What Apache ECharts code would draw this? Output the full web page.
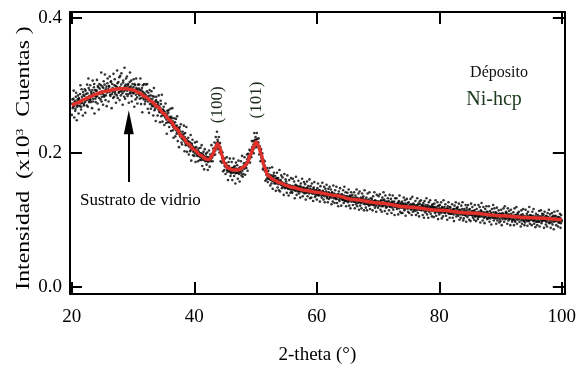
<!DOCTYPE html>
<html>
<head>
<meta charset="utf-8">
<script src="https://cdn.jsdelivr.net/npm/echarts@6/dist/echarts.min.js"></script>
<style>
  html, body { margin: 0; padding: 0; background: #fff; }
  #chart { width: 579px; height: 373px; }
</style>
</head>
<body>
<div id="chart"></div>
<script>
// XRD scan of the Ni-hcp deposit on glass: 2-theta from 20 to 100 deg, step 0.05 deg,
// stored as two interleaved rows per degree (x.x0 readings and x.x5 readings)
const scanStart = 20;
const scanStep = 0.1;
// readings at 20.0, 20.1, 20.2 ... 100.0
const counts = [
  256, 279, 268, 292, 252, 277, 265, 289, 248, 276,
  285, 258, 279, 269, 300, 264, 294, 274, 255, 286,
  270, 294, 259, 287, 278, 301, 268, 310, 275, 293,
  300, 275, 287, 266, 307, 280, 297, 258, 293, 275,
  283, 308, 273, 297, 264, 302, 290, 279, 319, 283,
  298, 271, 306, 285, 316, 278, 294, 269, 303, 291,
  276, 298, 313, 284, 306, 266, 302, 290, 317, 283,
  309, 287, 274, 298, 322, 281, 305, 290, 278, 314,
  285, 318, 296, 271, 307, 291, 326, 280, 301, 287,
  313, 284, 302, 274, 297, 319, 288, 307, 276, 302,
  288, 309, 268, 300, 279, 310, 294, 273, 301, 287,
  301, 280, 310, 272, 292, 260, 300, 282, 302, 272,
  276, 301, 280, 302, 265, 289, 259, 293, 280, 265,
  291, 269, 284, 255, 296, 263, 276, 247, 283, 268,
  255, 274, 285, 261, 245, 277, 254, 286, 246, 264,
  268, 241, 257, 273, 244, 228, 262, 245, 263, 238,
  245, 265, 232, 251, 266, 233, 222, 251, 240, 224,
  250, 228, 254, 217, 236, 208, 238, 224, 242, 215,
  212, 231, 219, 240, 202, 229, 211, 238, 201, 217,
  222, 197, 215, 202, 226, 188, 213, 219, 196, 203,
  195, 215, 186, 208, 216, 195, 187, 206, 197, 189,
  207, 189, 211, 180, 197, 201, 175, 205, 187, 198,
  182, 200, 174, 193, 203, 179, 197, 187, 211, 193,
  187, 206, 197, 215, 197, 223, 213, 231, 219, 205,
  223, 200, 214, 187, 203, 185, 200, 172, 187, 174,
  191, 168, 184, 193, 171, 159, 186, 172, 191, 165,
  169, 186, 159, 177, 191, 165, 180, 154, 185, 170,
  181, 161, 188, 168, 157, 178, 187, 166, 195, 164,
  168, 184, 193, 167, 184, 177, 197, 173, 198, 193,
  204, 185, 203, 193, 217, 200, 217, 199, 229, 219,
  223, 208, 229, 211, 215, 221, 197, 209, 187, 205,
  188, 199, 175, 189, 175, 187, 158, 175, 160, 177,
  156, 173, 161, 177, 151, 166, 154, 178, 146, 166,
  170, 154, 165, 143, 161, 170, 148, 162, 144, 174,
  142, 159, 166, 147, 163, 151, 137, 168, 147, 160,
  157, 140, 166, 146, 136, 159, 151, 140, 162, 142,
  140, 161, 146, 157, 132, 152, 164, 137, 150, 142,
  158, 139, 150, 133, 154, 143, 161, 135, 147, 156,
  139, 153, 130, 147, 157, 135, 150, 142, 160, 132,
  150, 133, 154, 139, 128, 148, 156, 134, 144, 136,
  130, 147, 154, 136, 144, 127, 150, 141, 133, 155,
  143, 130, 149, 126, 146, 137, 152, 132, 126, 146,
  131, 149, 136, 145, 123, 141, 127, 151, 138, 125,
  144, 131, 149, 125, 138, 120, 142, 128, 147, 134,
  121, 138, 130, 144, 125, 149, 128, 141, 120, 135,
  140, 126, 145, 121, 136, 117, 141, 129, 137, 122,
  127, 141, 117, 136, 123, 145, 120, 132, 139, 115,
  142, 121, 133, 117, 139, 127, 135, 114, 144, 123,
  118, 133, 114, 139, 128, 121, 141, 116, 132, 124,
  131, 114, 135, 122, 141, 118, 128, 112, 137, 125,
  118, 135, 123, 138, 115, 129, 112, 133, 120, 141,
  130, 113, 136, 118, 127, 109, 132, 123, 114, 137,
  119, 131, 110, 127, 136, 115, 124, 107, 132, 120,
  132, 116, 124, 108, 128, 136, 112, 122, 110, 127,
  110, 124, 133, 114, 129, 106, 122, 131, 117, 112,
  126, 110, 120, 131, 115, 107, 134, 112, 123, 117,
  113, 128, 107, 121, 132, 110, 124, 105, 127, 118,
  129, 114, 122, 107, 125, 103, 128, 111, 119, 132,
  108, 122, 103, 126, 115, 129, 109, 119, 105, 123,
  119, 104, 124, 110, 129, 106, 116, 126, 101, 121,
  108, 122, 112, 126, 102, 119, 105, 129, 116, 110,
  123, 106, 116, 100, 120, 126, 109, 103, 119, 112,
  109, 123, 103, 116, 98, 121, 113, 126, 105, 117,
  119, 106, 124, 100, 113, 103, 121, 109, 126, 99,
  102, 116, 107, 122, 97, 118, 104, 122, 110, 100,
  116, 98, 124, 107, 119, 103, 113, 100, 122, 105,
  98, 116, 110, 101, 122, 105, 119, 96, 114, 125,
  111, 99, 119, 103, 95, 116, 107, 120, 101, 112,
  102, 120, 97, 113, 109, 93, 116, 104, 122, 99,
  117, 102, 111, 94, 118, 99, 107, 114, 96, 109,
  98, 115, 92, 110, 104, 117, 97, 120, 101, 112,
  110, 94, 117, 99, 113, 102, 92, 115, 106, 97,
  100, 111, 92, 117, 97, 107, 119, 94, 110, 103,
  112, 97, 105, 90, 114, 94, 108, 116, 99, 92,
  96, 115, 101, 109, 91, 112, 98, 119, 94, 106,
  106, 92, 112, 99, 116, 94, 102, 89, 109, 97,
  92, 107, 97, 113, 90, 104, 114, 95, 109, 99,
  108, 88, 112, 99, 93, 106, 90, 110, 103, 115,
  95, 108, 88, 103, 110, 93, 106, 86, 112, 99,
  106, 92, 101, 113, 90, 104, 96, 109, 88, 107,
  98
];
// readings at 20.05, 20.15, 20.25 ... 99.95
const countsHalf = [
  273, 266, 280, 269, 275, 262, 283, 271, 268, 279,
  270, 281, 276, 287, 273, 268, 283, 279, 290, 272,
  284, 275, 292, 281, 270, 288, 279, 296, 284, 278,
  279, 290, 285, 293, 276, 289, 302, 284, 280, 292,
  292, 284, 299, 288, 281, 295, 287, 300, 276, 291,
  287, 296, 283, 301, 292, 285, 298, 289, 310, 294,
  299, 290, 286, 305, 293, 287, 296, 281, 294, 300,
  290, 299, 294, 285, 303, 296, 289, 312, 297, 291,
  301, 292, 288, 304, 296, 283, 299, 293, 310, 297,
  292, 300, 287, 296, 305, 290, 298, 284, 294, 291,
  297, 289, 302, 293, 286, 296, 282, 292, 288, 295,
  285, 293, 287, 281, 296, 286, 290, 279, 288, 284,
  286, 279, 291, 283, 276, 284, 279, 272, 285, 277,
  272, 280, 275, 269, 283, 273, 266, 278, 270, 275,
  271, 264, 269, 260, 266, 272, 259, 263, 256, 262,
  255, 261, 252, 258, 249, 256, 251, 259, 246, 253,
  250, 244, 253, 241, 247, 238, 244, 236, 245, 239,
  233, 240, 230, 236, 228, 234, 225, 231, 227, 221,
  226, 220, 227, 217, 223, 214, 220, 212, 218, 213,
  210, 216, 208, 214, 204, 211, 206, 209, 201, 207,
  206, 199, 204, 200, 197, 203, 196, 201, 194, 199,
  193, 199, 192, 196, 189, 195, 190, 193, 188, 194,
  188, 192, 186, 191, 188, 193, 190, 195, 192, 198,
  200, 196, 204, 207, 203, 211, 208, 214, 216, 210,
  213, 206, 208, 198, 199, 192, 193, 185, 186, 180,
  184, 178, 181, 174, 179, 176, 180, 173, 177, 171,
  177, 172, 176, 170, 178, 171, 175, 169, 176, 174,
  170, 175, 171, 177, 172, 176, 170, 178, 173, 177,
  180, 176, 183, 178, 185, 182, 190, 185, 193, 190,
  197, 194, 202, 199, 208, 203, 212, 206, 216, 212,
  219, 214, 220, 212, 215, 206, 208, 201, 202, 193,
  191, 187, 186, 178, 181, 172, 176, 167, 171, 163,
  168, 162, 167, 160, 165, 159, 164, 158, 163, 157,
  161, 156, 160, 154, 162, 155, 159, 153, 158, 155,
  157, 152, 156, 151, 155, 149, 154, 150, 153, 148,
  153, 148, 152, 147, 151, 146, 150, 145, 150, 146,
  150, 145, 149, 144, 148, 143, 151, 145, 148, 144,
  148, 143, 147, 142, 149, 144, 146, 141, 148, 143,
  146, 141, 145, 140, 147, 142, 144, 139, 146, 141,
  145, 140, 144, 139, 146, 140, 143, 138, 144, 140,
  143, 138, 142, 137, 144, 139, 141, 136, 142, 138,
  137, 141, 135, 140, 138, 142, 134, 139, 136, 141,
  139, 134, 138, 133, 140, 135, 137, 132, 139, 134,
  133, 137, 131, 136, 134, 138, 130, 135, 132, 137,
  135, 130, 134, 129, 136, 131, 133, 128, 135, 130,
  129, 133, 128, 134, 130, 135, 127, 132, 129, 133,
  132, 127, 131, 126, 133, 128, 130, 125, 131, 127,
  126, 130, 125, 131, 127, 132, 124, 129, 126, 130,
  129, 124, 128, 123, 130, 125, 127, 122, 128, 124,
  123, 127, 122, 128, 124, 129, 121, 126, 123, 127,
  127, 121, 126, 123, 128, 120, 125, 122, 129, 124,
  122, 127, 121, 125, 119, 126, 123, 128, 120, 124,
  125, 120, 126, 118, 124, 121, 127, 119, 123, 121,
  119, 124, 122, 126, 117, 123, 120, 125, 118, 122,
  123, 118, 121, 116, 124, 119, 122, 117, 125, 120,
  117, 122, 119, 123, 116, 121, 118, 124, 115, 120,
  121, 116, 120, 114, 122, 117, 119, 115, 123, 118,
  115, 120, 117, 121, 114, 119, 116, 122, 113, 118,
  119, 114, 118, 112, 120, 115, 117, 113, 121, 116,
  113, 118, 115, 119, 112, 117, 114, 120, 111, 116,
  117, 112, 116, 110, 118, 113, 115, 111, 119, 114,
  111, 116, 113, 117, 110, 115, 112, 118, 109, 114,
  115, 110, 114, 108, 116, 111, 113, 109, 117, 112,
  109, 114, 111, 115, 108, 113, 110, 116, 107, 112,
  113, 108, 112, 106, 114, 109, 111, 107, 115, 110,
  107, 112, 109, 113, 106, 111, 108, 114, 105, 110,
  111, 106, 110, 104, 112, 107, 109, 105, 113, 108,
  105, 110, 107, 111, 104, 109, 106, 112, 103, 108,
  109, 104, 108, 102, 110, 105, 107, 103, 111, 106,
  104, 108, 105, 110, 102, 107, 104, 109, 101, 106,
  108, 103, 107, 101, 109, 104, 106, 102, 110, 105,
  102, 107, 104, 108, 101, 106, 103, 109, 100, 105,
  106, 101, 105, 99, 107, 102, 104, 100, 108, 103,
  101, 105, 102, 107, 99, 104, 101, 106, 98, 103,
  105, 100, 104, 98, 106, 101, 103, 99, 107, 102,
  100, 104, 101, 106, 98, 103, 100, 105, 97, 102,
  104, 99, 103, 97, 105, 100, 102, 98, 106, 101,
  99, 103, 100, 105, 97, 102, 99, 104, 96, 101,
  103, 98, 102, 96, 104, 99, 101, 97, 105, 100,
  98, 102, 99, 104, 96, 101, 98, 103, 95, 100
];

// fitted profile (glass hump + two Ni-hcp reflections)
const fitTheta = [20, 21, 22, 23, 24, 25, 26, 27, 28, 29, 30, 31, 32, 33, 34, 35, 36, 37, 38, 39, 40, 41, 42, 42.5,
  43, 43.4, 43.8, 44.1, 44.5, 44.9, 45.5, 46.3, 47.2, 48, 48.6, 49.2, 49.7, 50.1, 50.5, 50.9, 51.4, 52,
  53, 54, 55, 56, 58, 60, 63, 66, 70, 75, 80, 85, 90, 95, 100];
const fitCounts = [270, 274, 279, 283, 287, 290, 292, 294, 295, 295, 293, 289, 283, 276, 268, 258, 248, 236, 224, 213, 204, 196, 190, 190,
  197, 206, 213, 209, 196, 184, 177, 174, 174, 178, 184, 197, 209, 216, 210, 198, 180, 166,
  159, 155, 151, 148, 144, 141, 136, 130, 125, 119, 114, 110, 106, 103, 100];

// reflections and their indices
const peakTheta = [43.8, 50.1];
const peakNames = ['(100)', '(101)'];

// axis ticks
const xTicks = [20, 40, 60, 80, 100];
const yTicks = [0, 0.2, 0.4];

const SERIF = '"Liberation Serif", "DejaVu Serif", serif';
const scatterData = counts.map((c, i) => [scanStart + i * scanStep, c / 1000])
  .concat(countsHalf.map((c, i) => [scanStart + scanStep / 2 + i * scanStep, c / 1000]));
const fitData = fitTheta.map((t, i) => [t, fitCounts[i] / 1000]);

const chart = echarts.init(document.getElementById('chart'), null, { renderer: 'canvas' });

const axisLine = { show: true, onZero: false, lineStyle: { color: '#000', width: 2 } };
const tickStyle = { color: '#000', width: 2 };

const option = {
  animation: false,
  backgroundColor: '#fff',
  grid: { left: 70, right: 13, top: 12, bottom: 79, containLabel: false },
  xAxis: [
    {
      type: 'value', min: 19.7, max: 100.5,
      axisLine: axisLine,
      axisTick: { show: true, inside: true, length: 12, customValues: xTicks, lineStyle: tickStyle },
      axisLabel: {
        customValues: xTicks, color: '#000', fontFamily: SERIF, fontSize: 19, margin: 14,
        formatter: v => String(v)
      },
      splitLine: { show: false },
      name: '2-theta (°)', nameLocation: 'middle', nameGap: 52,
      nameTextStyle: { color: '#000', fontFamily: SERIF, fontSize: 19 }
    },
    {
      type: 'value', position: 'top', min: 19.7, max: 100.5,
      axisLine: axisLine,
      axisTick: { show: true, inside: true, length: 12, customValues: xTicks, lineStyle: tickStyle },
      axisLabel: { show: false },
      splitLine: { show: false }
    }
  ],
  yAxis: [
    {
      type: 'value', min: -0.0104, max: 0.409,
      axisLine: axisLine,
      axisTick: { show: true, inside: true, length: 12, customValues: yTicks, lineStyle: tickStyle },
      axisLabel: {
        customValues: yTicks, color: '#000', fontFamily: SERIF, fontSize: 19, margin: 8,
        formatter: v => v.toFixed(1)
      },
      splitLine: { show: false }
    },
    {
      type: 'value', position: 'right', min: -0.0104, max: 0.409,
      axisLine: axisLine,
      axisTick: { show: true, inside: true, length: 12, customValues: yTicks, lineStyle: tickStyle },
      axisLabel: { show: false },
      splitLine: { show: false }
    }
  ],
  series: [
    {
      type: 'scatter',
      data: scatterData,
      symbol: 'circle',
      symbolSize: 2.6,
      itemStyle: { color: '#000' },
      silent: true,
      zlevel: 0,
      z: 2,
      markPoint: {
        silent: true,
        symbol: 'circle',
        symbolSize: 0,
        data: [
          {
            coord: [31.2, 0.129],
            label: {
              show: true, position: 'inside', formatter: 'Sustrato de vidrio',
              color: '#000', fontFamily: SERIF, fontSize: 17
            }
          }
        ].concat(peakTheta.map((t, i) => ({
          coord: [t, i === 0 ? 0.271 : 0.278],
          label: {
            show: true, position: 'inside', rotate: 90, formatter: peakNames[i],
            color: '#1c2e1c', fontFamily: SERIF, fontSize: 17
          }
        })))
      },
      markLine: {
        silent: true,
        animation: false,
        symbol: ['none', 'triangle'],
        symbolSize: [10, 24],
        lineStyle: { color: '#000', width: 2, type: 'solid' },
        label: { show: false },
        data: [[{ coord: [29.3, 0.156] }, { coord: [29.3, 0.245] }]]
      }
    },
    {
      type: 'line',
      data: fitData,
      smooth: 0.35,
      smoothMonotone: 'x',
      showSymbol: false,
      silent: true,
      lineStyle: { color: '#e0302a', width: 3.5 },
      zlevel: 1,
      z: 5
    }
  ],
  graphic: [
    {
      type: 'text', x: 24, y: 158, rotation: Math.PI / 2, scaleX: 1.25,
      style: {
        text: 'Intensidad  (x10{sup|3}  Cuentas )',
        fill: '#000', fontFamily: SERIF, fontSize: 19,
        align: 'center', verticalAlign: 'middle',
        rich: { sup: { fontFamily: SERIF, fontSize: 11, verticalAlign: 'top', padding: [0, 0, 8, 0] } }
      }
    },
    {
      type: 'text', x: 499, y: 73,
      style: { text: 'Déposito', fill: '#111', fontFamily: SERIF, fontSize: 16, align: 'center', verticalAlign: 'middle' }
    },
    {
      type: 'text', x: 494, y: 100,
      style: { text: 'Ni-hcp', fill: '#1e3a1e', fontFamily: SERIF, fontSize: 20, align: 'center', verticalAlign: 'middle' }
    }
  ]
};

chart.setOption(option);
</script>
</body>
</html>
